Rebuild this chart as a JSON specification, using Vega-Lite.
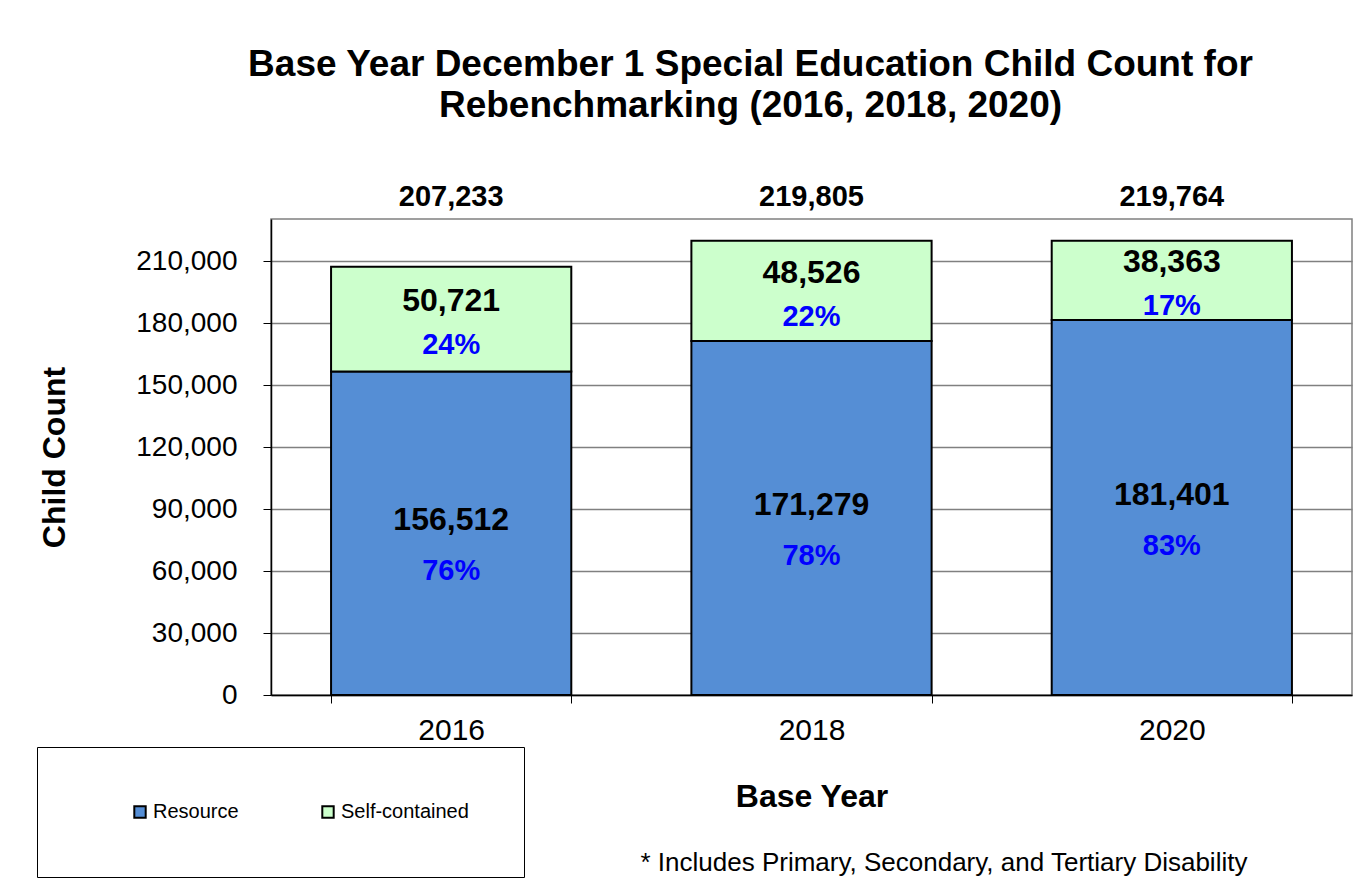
{
  "$schema": "https://vega.github.io/schema/vega-lite/v6.json",
  "width": 1081,
  "height": 476,
  "autosize": {"type": "none"},
  "padding": {"left": 271, "top": 219, "right": 12, "bottom": 194},
  "background": "white",
  "config": {
    "font": "Liberation Sans",
    "view": {"stroke": "#808080", "strokeWidth": 1.5}
  },
  "title": {
    "text": ["Base Year December 1 Special Education Child Count for", "Rebenchmarking (2016, 2018, 2020)"],
    "fontSize": 37,
    "fontWeight": "bold",
    "color": "black",
    "anchor": "middle",
    "dx": -61,
    "lineHeight": 41,
    "offset": 58
  },
  "data": {
    "values": [
      {"year": "2016", "type": "Resource", "count": 156512, "pct": 0.76},
      {"year": "2016", "type": "Self-contained", "count": 50721, "pct": 0.24},
      {"year": "2018", "type": "Resource", "count": 171279, "pct": 0.78},
      {"year": "2018", "type": "Self-contained", "count": 48526, "pct": 0.22},
      {"year": "2020", "type": "Resource", "count": 181401, "pct": 0.83},
      {"year": "2020", "type": "Self-contained", "count": 38363, "pct": 0.17}
    ]
  },
  "encoding": {
    "x": {
      "field": "year",
      "type": "nominal",
      "scale": {"paddingInner": 0.3333, "paddingOuter": 0.1667},
      "axis": {
        "title": "Base Year",
        "titleFontSize": 32,
        "titleFontWeight": "bold",
        "titleColor": "black",
        "titlePadding": 36,
        "labelAngle": 0,
        "labelFontSize": 30,
        "labelColor": "black",
        "labelPadding": 12,
        "tickBand": "extent",
        "tickSize": 8,
        "tickColor": "black",
        "domainColor": "black",
        "domainWidth": 1.5,
        "grid": false
      }
    }
  },
  "layer": [
    {
      "mark": {"type": "bar", "stroke": "black", "strokeWidth": 2},
      "encoding": {
        "y": {
          "field": "count",
          "type": "quantitative",
          "stack": "zero",
          "scale": {"domain": [0, 230323], "nice": false},
          "axis": {
            "title": "Child Count",
            "titleFontSize": 32,
            "titleFontWeight": "bold",
            "titleColor": "black",
            "titlePadding": 64,
            "values": [0, 30000, 60000, 90000, 120000, 150000, 180000, 210000],
            "format": ",.0f",
            "labelFontSize": 28,
            "labelColor": "black",
            "labelPadding": 26,
            "tickSize": 8,
            "tickColor": "black",
            "domainColor": "black",
            "domainWidth": 1.5,
            "gridColor": "#808080",
            "gridWidth": 1.5
          }
        },
        "order": {"field": "type", "sort": "ascending"},
        "color": {
          "field": "type",
          "type": "nominal",
          "scale": {"domain": ["Resource", "Self-contained"], "range": ["#558ED5", "#CCFFCC"]},
          "legend": {
            "title": null,
            "orient": "none",
            "direction": "horizontal",
            "legendX": -234,
            "legendY": 528,
            "padding": 55,
            "strokeColor": "black",
            "fillColor": "white",
            "symbolType": "square",
            "symbolSize": 130,
            "symbolOffset": 38,
            "symbolStrokeColor": "black",
            "symbolStrokeWidth": 2,
            "symbolOpacity": 1,
            "labelFontSize": 20,
            "labelColor": "black",
            "labelOffset": 3,
            "columnPadding": 41
          }
        }
      }
    },
    {
      "transform": [
        {"stack": "count", "groupby": ["year"], "sort": [{"field": "type"}], "as": ["y0", "y1"]},
        {"calculate": "(datum.y0 + datum.y1) / 2", "as": "mid"},
        {"filter": "datum.type === 'Resource'"}
      ],
      "mark": {"type": "text", "fontSize": 32, "fontWeight": "bold", "color": "black", "baseline": "middle", "dy": -13},
      "encoding": {
        "y": {"field": "mid", "type": "quantitative"},
        "text": {"field": "count", "type": "quantitative", "format": ","}
      }
    },
    {
      "transform": [
        {"stack": "count", "groupby": ["year"], "sort": [{"field": "type"}], "as": ["y0", "y1"]},
        {"calculate": "(datum.y0 + datum.y1) / 2", "as": "mid"},
        {"filter": "datum.type === 'Resource'"}
      ],
      "mark": {"type": "text", "fontSize": 29, "fontWeight": "bold", "color": "#0000FF", "baseline": "middle", "dy": 38},
      "encoding": {
        "y": {"field": "mid", "type": "quantitative"},
        "text": {"field": "pct", "type": "quantitative", "format": ".0%"}
      }
    },
    {
      "transform": [
        {"stack": "count", "groupby": ["year"], "sort": [{"field": "type"}], "as": ["y0", "y1"]},
        {"calculate": "(datum.y0 + datum.y1) / 2", "as": "mid"},
        {"filter": "datum.type === 'Self-contained'"}
      ],
      "mark": {"type": "text", "fontSize": 32, "fontWeight": "bold", "color": "black", "baseline": "middle", "dy": -18},
      "encoding": {
        "y": {"field": "mid", "type": "quantitative"},
        "text": {"field": "count", "type": "quantitative", "format": ","}
      }
    },
    {
      "transform": [
        {"stack": "count", "groupby": ["year"], "sort": [{"field": "type"}], "as": ["y0", "y1"]},
        {"calculate": "(datum.y0 + datum.y1) / 2", "as": "mid"},
        {"filter": "datum.type === 'Self-contained'"}
      ],
      "mark": {"type": "text", "fontSize": 29, "fontWeight": "bold", "color": "#0000FF", "baseline": "middle", "dy": 26},
      "encoding": {
        "y": {"field": "mid", "type": "quantitative"},
        "text": {"field": "pct", "type": "quantitative", "format": ".0%"}
      }
    },
    {
      "transform": [
        {"aggregate": [{"op": "sum", "field": "count", "as": "total"}], "groupby": ["year"]}
      ],
      "mark": {"type": "text", "fontSize": 29, "fontWeight": "bold", "color": "black", "baseline": "middle"},
      "encoding": {
        "y": {"datum": 241000, "type": "quantitative"},
        "text": {"field": "total", "type": "quantitative", "format": ","}
      }
    },
    {
      "data": {"values": [{"note": "* Includes Primary, Secondary, and Tertiary Disability"}]},
      "mark": {"type": "text", "fontSize": 26, "color": "black", "align": "left", "baseline": "middle", "dx": -171},
      "encoding": {
        "x": {"datum": "2018"},
        "y": {"datum": -81500, "type": "quantitative"},
        "text": {"field": "note"}
      }
    }
  ]
}
